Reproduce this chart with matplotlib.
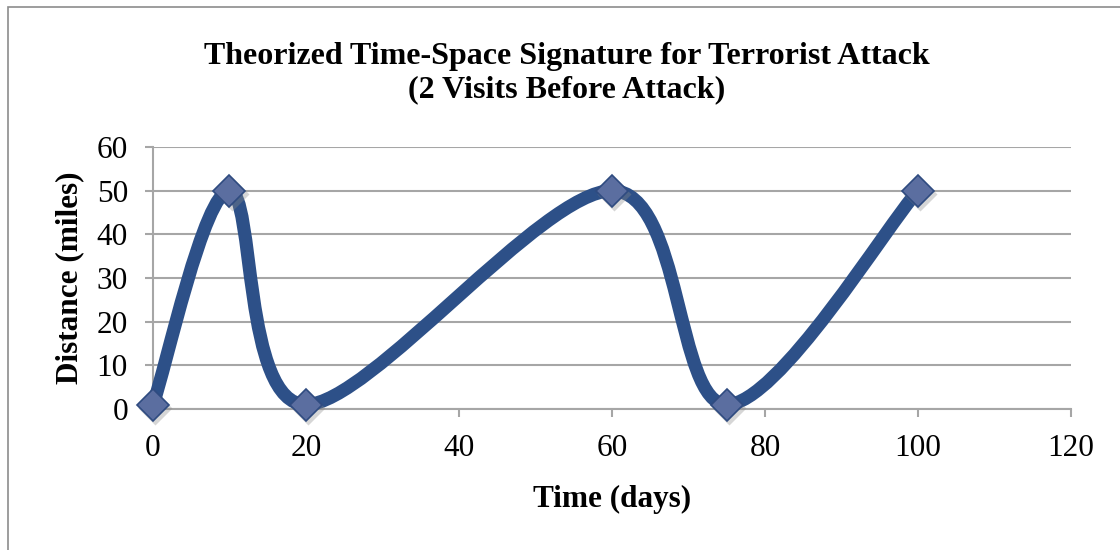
import matplotlib
matplotlib.use("Agg")
import matplotlib.pyplot as plt
from matplotlib.path import Path
from matplotlib.patches import PathPatch, Rectangle
from matplotlib.transforms import ScaledTranslation

# Data
days = [0, 10, 20, 60, 75, 100]
miles = [1, 50, 1, 50, 1, 50]
x_ticks = [0, 20, 40, 60, 80, 100, 120]
y_ticks = [0, 10, 20, 30, 40, 50, 60]
title = "Theorized Time-Space Signature for Terrorist Attack\n(2 Visits Before Attack)"
x_label = "Time (days)"
y_label = "Distance (miles)"

plt.rcParams['font.family'] = ['Liberation Serif', 'DejaVu Serif']

fig = plt.figure(figsize=(11.2, 5.5), dpi=100)
ax = fig.add_axes([153/1120, 1-409/550, (1071-153)/1120, (409-147)/550])

line_color = '#2D5088'
grid_color = '#A6A6A6'

# Smooth curve (Excel-like Catmull-Rom Bezier through the data points)
pts = list(zip(days, miles))
verts = [pts[0]]
codes = [Path.MOVETO]
n = len(pts)
for i in range(n - 1):
    p0 = pts[i - 1] if i > 0 else pts[i]
    p1 = pts[i]
    p2 = pts[i + 1]
    p3 = pts[i + 2] if i + 2 < n else pts[i + 1]
    c1 = (p1[0] + (p2[0] - p0[0]) / 6, p1[1] + (p2[1] - p0[1]) / 6)
    c2 = (p2[0] - (p3[0] - p1[0]) / 6, p2[1] - (p3[1] - p1[1]) / 6)
    verts += [c1, c2, p2]
    codes += [Path.CURVE4] * 3
ax.add_patch(PathPatch(Path(verts, codes), facecolor='none', edgecolor=line_color,
                       lw=9.5, capstyle='round', joinstyle='round', zorder=3, clip_on=False))

# Marker shadows
ax.plot(days, miles, linestyle='none', marker='D', markersize=17,
        markerfacecolor='#8a8a8a', markeredgecolor='none', alpha=0.35,
        zorder=3.5, clip_on=False,
        transform=ax.transData + ScaledTranslation(1.5/72, -2.5/72, fig.dpi_scale_trans))
ax.plot(days, miles, linestyle='none', marker='D', markersize=16.5,
        markerfacecolor='#5B6EA0', markeredgecolor='#2F4B80', markeredgewidth=1.2,
        zorder=4, clip_on=False)

ax.set_xlim(0, 120)
ax.set_ylim(0, 60)
ax.set_xticks(x_ticks)
ax.set_yticks(y_ticks)
ax.tick_params(axis='both', labelsize=22.5, color=grid_color, width=1.5, length=6)
ax.tick_params(axis='x', pad=12)
ax.tick_params(axis='y', pad=12)
ax.yaxis.grid(True, color=grid_color, lw=1.5)
ax.set_axisbelow(True)
for s in ['top', 'right']:
    ax.spines[s].set_visible(False)
for s in ['left', 'bottom']:
    ax.spines[s].set_color(grid_color)
    ax.spines[s].set_linewidth(1.5)

ax.set_xlabel(x_label, fontsize=22.5, fontweight='bold', labelpad=16)
ax.set_ylabel(y_label, fontsize=22.5, fontweight='bold', labelpad=9)
fig.text(567/1120, 1-73/550, title, ha='center', va='center', fontsize=23,
         fontweight='bold', linespacing=1.2)

fig.patches.append(Rectangle((8/1120, -0.1), 1.2, 1 - 7/550 + 0.1, transform=fig.transFigure,
                             fill=False, edgecolor='#8C8C8C', lw=1.2))

fig.savefig('out.png', dpi=100)
